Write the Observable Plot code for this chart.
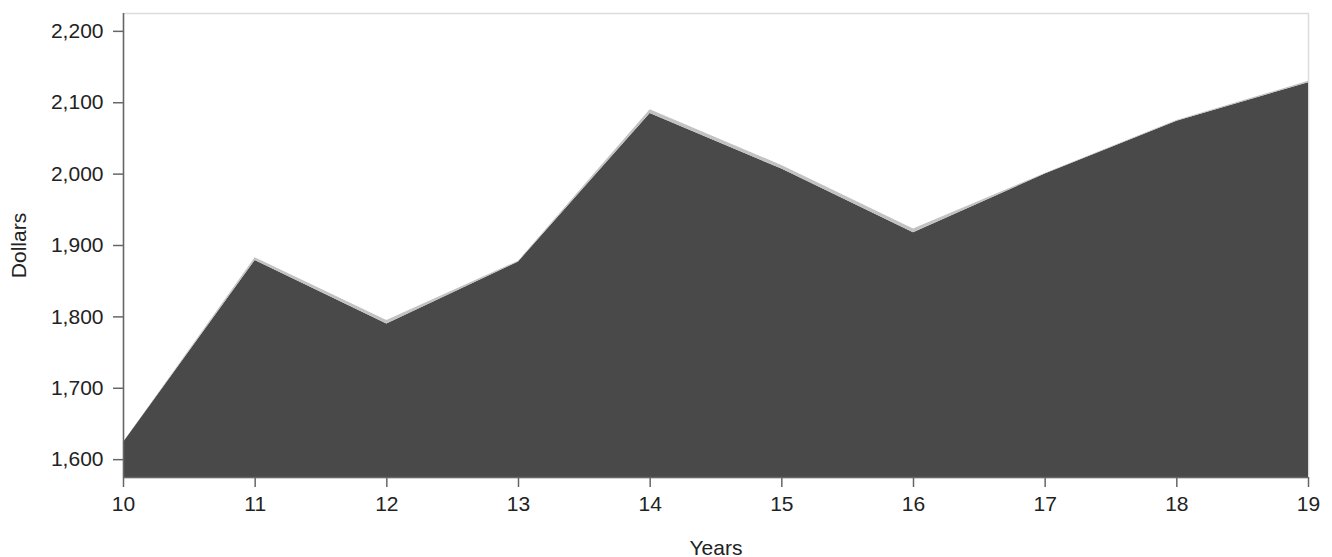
<!DOCTYPE html>
<html>
<head>
<meta charset="utf-8">
<script src="https://cdn.jsdelivr.net/npm/d3@7"></script>
<script src="https://cdn.jsdelivr.net/npm/@observablehq/plot@0.6"></script>
<style>
  html, body { margin: 0; padding: 0; background: #fff; }
</style>
</head>
<body>
<div id="chart"></div>
<script>
const years = [10, 11, 12, 13, 14, 15, 16, 17, 18, 19];
const baseValues = [1624, 1879, 1790, 1877, 2085, 2007, 1918, 2000, 2074, 2128];
const extraValues = [0, 4, 5, 1, 5, 5, 5, 1, 1, 2];
const seriesNames = ["Base", "Extra"];
const yTicks = [1600, 1700, 1800, 1900, 2000, 2100, 2200];

const data = [];
years.forEach((yr, i) => {
  data.push({ year: yr, series: seriesNames[0], value: baseValues[i] });
  data.push({ year: yr, series: seriesNames[1], value: extraValues[i] });
});

const chart = Plot.plot({
  width: 1332,
  height: 557,
  marginLeft: 123,
  marginRight: 24,
  marginTop: 13,
  marginBottom: 80,
  style: { fontFamily: "'Liberation Sans', Arial, sans-serif", fontSize: "21px", color: "#222", background: "#fff" },
  x: { domain: [10, 19] },
  y: { domain: [1575, 2225] },
  color: { domain: seriesNames, range: ["#494949", "#c2c2c2"] },
  marks: [
    Plot.frame({ stroke: "#dcdcdc", strokeWidth: 1.5 }),
    Plot.areaY(data, Plot.stackY({ order: seriesNames }, { x: "year", y: "value", fill: "series", z: "series", clip: true })),
    Plot.axisX({ ticks: years, tickFormat: d => String(d), tickSize: 10, tickPadding: 9, stroke: "#666", strokeWidth: 1.5, label: "Years", labelAnchor: "center", labelArrow: "none", labelOffset: 77 }),
    Plot.axisY({ ticks: yTicks, tickFormat: d3.format(","), tickSize: 10, tickPadding: 10, stroke: "#666", strokeWidth: 1.5, label: "Dollars", labelAnchor: "center", labelArrow: "none", labelOffset: 112 }),
    Plot.ruleX([10], { stroke: "#666", strokeWidth: 1.5 }),
    Plot.ruleY([1575], { stroke: "#666", strokeWidth: 1.5 })
  ]
});
document.getElementById("chart").appendChild(chart);
</script>
</body>
</html>
